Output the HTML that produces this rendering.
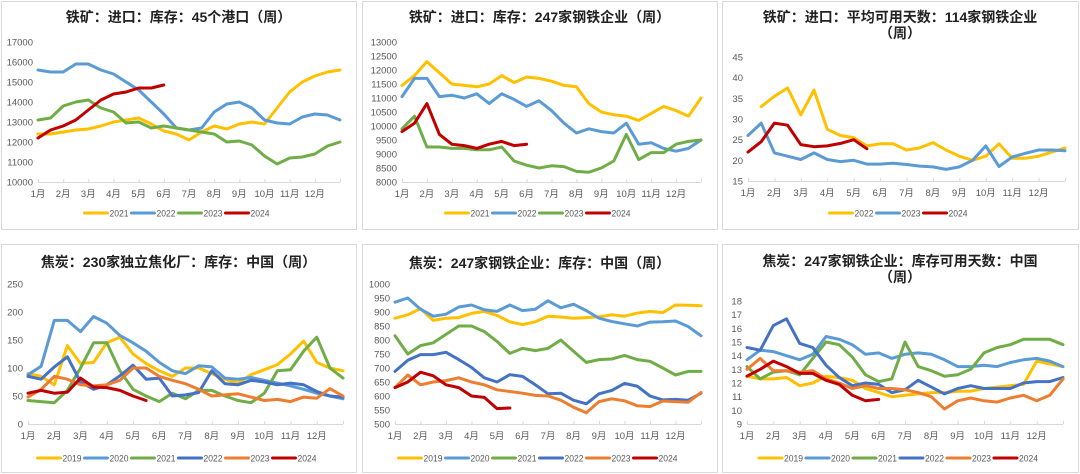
<!DOCTYPE html>
<html><head><meta charset="utf-8">
<style>
html,body{margin:0;padding:0;background:#fff;}
body{width:1080px;height:474px;overflow:hidden;position:relative;font-family:"Liberation Sans","Noto Sans CJK SC",sans-serif;}
svg{position:absolute;left:0;top:0;}
</style></head>
<body>
<svg id="c" width="1080" height="474" viewBox="0 0 1080 474" xmlns="http://www.w3.org/2000/svg"></svg>
<script>
// ---- data (values sampled every half month, index i -> month i/2) ----
const monthLabels = ["1月","2月","3月","4月","5月","6月","7月","8月","9月","10月","11月","12月"];
const yearsTop = ["2021","2022","2023","2024"];
const yearsP3 = ["2022","2023","2024"];
const yearsBottom = ["2019","2020","2021","2022","2023","2024"];

const p1Ticks = [10000,11000,12000,13000,14000,15000,16000,17000];
const p1y2021 = [12400,12400,12500,12600,12650,12800,13000,13100,13200,12900,12550,12400,12100,12500,12800,12650,12900,13000,12900,13700,14500,15000,15300,15500,15600];
const p1y2022 = [15600,15500,15500,15900,15900,15600,15400,15000,14600,14000,13400,12700,12600,12700,13500,13900,14000,13700,13100,12950,12900,13250,13400,13350,13100];
const p1y2023 = [13100,13200,13800,14000,14100,13700,13500,12950,13000,12700,12800,12700,12600,12500,12400,12000,12050,11850,11300,10900,11200,11250,11400,11800,12000];
const p1y2024 = [12200,12600,12800,13100,13600,14100,14400,14500,14700,14700,14850];

const p2Ticks = [8000,8500,9000,9500,10000,10500,11000,11500,12000,12500,13000];
const p2y2021 = [11450,11800,12300,11900,11500,11450,11400,11500,11800,11550,11750,11700,11600,11450,11400,10800,10500,10400,10350,10200,10450,10700,10550,10350,11000];
const p2y2022 = [11050,11700,11700,11050,11100,11000,11150,10800,11150,10950,10700,10900,10550,10100,9750,9900,9800,9750,10100,9350,9400,9200,9100,9200,9500];
const p2y2023 = [9900,10350,9250,9250,9200,9200,9150,9150,9250,8750,8600,8500,8580,8550,8380,8350,8500,8750,9700,8800,9050,9050,9350,9450,9500];
const p2y2024 = [9800,10100,10800,9700,9350,9300,9200,9350,9450,9300,9350];

const p3Ticks = [15,20,25,30,35,40,45];
const p3y2022 = [null,33,35.5,37.5,31,37,27.5,26,25.5,23.5,24,24,22.5,23,24.3,22.5,21,20,21,24,20.5,20.5,21,22,23];
const p3y2023 = [26,29,21.8,21,20.2,21.8,20.2,19.7,20,19.1,19.1,19.3,19,18.6,18.4,17.8,18.4,20,23.5,18.5,20.8,21.7,22.5,22.5,22.3];
const p3y2024 = [22,24.5,29,28.5,23.8,23.3,23.5,24.1,25,22.8];

const p4Ticks = [0,50,100,150,200,250];
const p4y2019 = [90,85,70,140,108,110,145,155,125,108,95,85,100,100,90,80,73,88,97,106,125,148,110,100,95];
const p4y2020 = [88,103,185,185,165,192,180,158,145,130,110,95,90,104,102,82,80,83,78,73,68,62,55,50,45];
const p4y2021 = [42,40,38,60,100,145,145,95,62,50,40,55,45,60,60,50,42,38,55,95,97,130,155,100,82];
const p4y2022 = [85,80,102,120,75,62,70,86,105,80,82,50,52,56,95,72,70,78,75,70,73,70,58,50,48];
const p4y2023 = [48,62,85,80,70,68,70,78,100,100,85,78,72,62,50,52,54,48,42,44,40,48,46,63,50];
const p4y2024 = [55,60,55,57,82,66,65,60,50,42];

const p5Ticks = [500,550,600,650,700,750,800,850,900,950,1000];
const p5y2019 = [878,890,912,870,878,880,895,902,888,865,855,865,885,882,878,880,883,890,885,896,902,898,925,924,922];
const p5y2020 = [935,950,910,885,892,918,925,908,902,925,905,910,940,915,928,905,878,866,858,850,864,865,868,848,815];
const p5y2021 = [815,750,780,790,820,850,850,830,795,752,770,762,770,800,760,720,730,732,745,730,724,700,675,688,688];
const p5y2022 = [688,728,748,748,756,730,702,665,650,676,670,640,608,610,585,572,608,620,645,635,600,586,588,585,610];
const p5y2023 = [630,675,640,650,655,665,650,640,622,616,610,602,600,585,560,540,580,590,583,565,562,582,580,578,613];
const p5y2024 = [630,650,685,672,640,630,600,595,555,557];

const p6Ticks = [9,10,11,12,13,14,15,16,17,18];
const p6y2019 = [12.5,12.3,12.3,12.4,11.8,12,12.5,12.4,12.2,11.6,11.3,11,11.1,11.2,11.3,11.3,11.4,11.4,11.6,11.7,11.8,11.9,13.6,13.4,13.2];
const p6y2020 = [13.7,14.4,14.3,14,13.7,14.1,15.4,15.2,14.8,14.1,14.2,13.8,14.1,14.2,14.1,13.7,13.2,13.2,13.3,13.2,13.5,13.7,13.8,13.6,13.2];
const p6y2021 = [13.2,12.3,12.8,12.9,12.6,13.8,15,14.8,13.9,12.6,12.1,12.3,15,13.2,12.9,12.5,12.6,13,14.2,14.6,14.8,15.2,15.2,15.2,14.8];
const p6y2022 = [14.6,14.4,16.2,16.7,14.9,14.6,13.3,12.4,11.8,12,11.9,11.3,11.5,12.2,11.7,11.2,11.6,11.8,11.6,11.6,11.6,12,12.1,12.1,12.4];
const p6y2023 = [13,13.8,12.9,12.9,12.8,12.9,12.3,12,11.6,11.8,11.6,11.6,11.5,11.3,11,10.1,10.7,10.9,10.7,10.6,10.9,11.1,10.7,11.1,12.3];
const p6y2024 = [12.5,13,13.6,13.2,12.7,12.7,12.2,11.9,11.1,10.7,10.8];

const C = {"2019":"#FFC000","2020":"#5B9BD5","2021":"#70AD47","2022":"#4472C4","2023":"#ED7D31","2024":"#C00000"};
const CT = {"2021":"#FFC000","2022":"#5B9BD5","2023":"#70AD47","2024":"#C00000"};
const C3 = {"2022":"#FFC000","2023":"#5B9BD5","2024":"#C00000"};

// ---- layout ----
const panels = [
 {name:"iron-ore-port-stock", box:[1,1,355,228], title:["铁矿：进口：库存：45个港口（周）"], ty:[17], plot:[38,42,340,182], ticks:p1Ticks, years:yearsTop, series:[p1y2021,p1y2022,p1y2023,p1y2024], colors:CT, legY:213},
 {name:"iron-ore-steel-mill-stock", box:[362,1,355,228], title:["铁矿：进口：库存：247家钢铁企业（周）"], ty:[17], plot:[402,42,701,182], ticks:p2Ticks, years:yearsTop, series:[p2y2021,p2y2022,p2y2023,p2y2024], colors:CT, legY:213},
 {name:"iron-ore-days-of-supply", box:[722,1,356,228], title:["铁矿：进口：平均可用天数：114家钢铁企业","（周）"], ty:[17,33], plot:[748,57,1065,181], ticks:p3Ticks, years:yearsP3, series:[p3y2022,p3y2023,p3y2024], colors:C3, legY:213},
 {name:"coke-coking-plant-stock", box:[1,244,355,228], title:["焦炭：230家独立焦化厂：库存：中国（周）"], ty:[262], plot:[28,284,343,424], ticks:p4Ticks, years:yearsBottom, series:[p4y2019,p4y2020,p4y2021,p4y2022,p4y2023,p4y2024], colors:C, legY:458},
 {name:"coke-steel-mill-stock", box:[362,244,355,228], title:["焦炭：247家钢铁企业：库存：中国（周）"], ty:[263], plot:[395,284,701,424], ticks:p5Ticks, years:yearsBottom, series:[p5y2019,p5y2020,p5y2021,p5y2022,p5y2023,p5y2024], colors:C, legY:458},
 {name:"coke-days-of-supply", box:[722,244,356,228], title:["焦炭：247家钢铁企业：库存可用天数：中国","（周）"], ty:[261,277], plot:[747,301,1063,424], ticks:p6Ticks, years:yearsBottom, series:[p6y2019,p6y2020,p6y2021,p6y2022,p6y2023,p6y2024], colors:C, legY:458}
];

const svg = document.getElementById('c');
const NS = "http://www.w3.org/2000/svg";
function mk(tag, attrs, parent){const e=document.createElementNS(NS,tag);for(const k in attrs)e.setAttribute(k,attrs[k]);parent.appendChild(e);return e;}

panels.forEach(p=>{
  const g = mk('g',{},svg);
  
  
  const [bx,by,bw,bh]=p.box;
  const frame = mk('rect',{x:bx+0.5,y:by+0.5,width:bw,height:bh,fill:'#fff',stroke:'#d9d9d9','stroke-width':1},g);
  
  
  const cx = bx + bw/2;
  p.title.forEach((t,i)=>{
    const tt = mk('text',{x:cx,y:p.ty[i]+5,'text-anchor':'middle','font-size':'14','font-weight':'bold',fill:'#222'},g);
    tt.textContent=t;
    
    
  });
  const [x0,y0,x1,y1]=p.plot;
  const tmin=p.ticks[0], tmax=p.ticks[p.ticks.length-1];
  const sx = m => x0 + (x1-x0)*m/12;
  const sy = v => y1 - (y1-y0)*(v-tmin)/(tmax-tmin);
  p.ticks.forEach(v=>{
    const t = mk('text',{x:x0-5,y:sy(v)+3.5,'text-anchor':'end','font-size':'9.5',fill:'#595959'},g);
    t.textContent=v;
    
    
  });
  const ax = mk('line',{x1:x0,y1:y1+0.5,x2:x1,y2:y1+0.5,stroke:'#d9d9d9','stroke-width':1},g);
  
  
  for(let m=0;m<=12;m++){
    mk('line',{x1:sx(m)+0.5,y1:y1-3,x2:sx(m)+0.5,y2:y1,stroke:'#d9d9d9','stroke-width':1},g);
  }
  monthLabels.forEach((lb,m)=>{
    const t = mk('text',{x:sx(m),y:y1+15,'text-anchor':'middle','font-size':'9.5',fill:'#595959'},g);
    t.textContent=lb;
    
    
  });
  p.series.forEach((arr,si)=>{
    const yr=p.years[si];
    let d='';let pen=false;
    arr.forEach((v,i)=>{
      if(v===null){pen=false;return;}
      d += (pen?'L':'M') + sx(i/2).toFixed(1)+','+sy(v).toFixed(1)+' ';
      pen=true;
    });
    const path = mk('path',{d:d,fill:'none',stroke:p.colors[yr],'stroke-width':3,'stroke-linejoin':'round','stroke-linecap':'round'},g);
    
    
  });
  const itemW = 47;
  const totalW = itemW*p.years.length;
  let lx = cx - totalW/2;
  p.years.forEach(yr=>{
    const lg = mk('g',{},g);
    
    
    mk('line',{x1:lx,y1:p.legY,x2:lx+23,y2:p.legY,stroke:p.colors[yr],'stroke-width':3,'stroke-linecap':'round'},lg);
    const t = mk('text',{x:lx+25,y:p.legY+3.5,'font-size':'9','font-family':'Liberation Sans, sans-serif',fill:'#595959',textLength:'19',lengthAdjust:'spacingAndGlyphs'},lg);
    t.textContent=yr;
    lx += itemW;
  });
});
</script>
</body></html>
